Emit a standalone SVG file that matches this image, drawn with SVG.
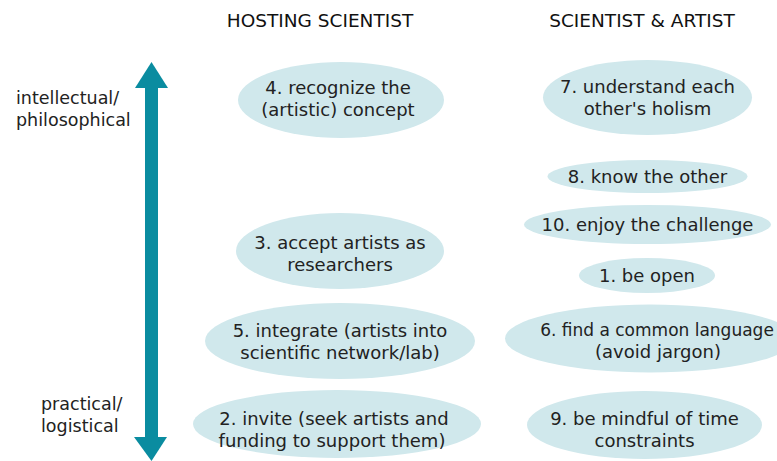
<svg xmlns="http://www.w3.org/2000/svg" width="777" height="461" viewBox="0 0 777 461">
<style>
.e{fill:#d0e8ec}
.t{font-family:"DejaVu Sans",Verdana,sans-serif;font-size:18px;fill:#222;text-anchor:middle}
.h{font-family:"DejaVu Sans",Verdana,sans-serif;font-size:18.5px;fill:#111;text-anchor:middle}
.l{font-family:"DejaVu Sans",Verdana,sans-serif;font-size:17.5px;fill:#222}
</style>
<rect width="777" height="461" fill="#fff"/>
<text class="h" x="320" y="27">HOSTING SCIENTIST</text>
<text class="h" x="642" y="27">SCIENTIST &amp; ARTIST</text>
<g id="axis">
<rect x="145" y="86" width="13" height="353" fill="#0a8ca0"/>
<polygon points="151.5,62 168,88 135,88" fill="#0a8ca0"/>
<polygon points="151.5,461 167,437 134,437" fill="#0a8ca0"/>
</g>
<g id="lab-top"><text class="l" x="16" y="104">intellectual/</text><text class="l" x="16" y="126">philosophical</text></g>
<g id="lab-bottom"><text class="l" x="41" y="410">practical/</text><text class="l" x="41" y="432">logistical</text></g>
<g id="connectors"></g>
<g id="n4"><ellipse class="e" cx="341" cy="100" rx="103" ry="38"/><text class="t" x="338" y="94">4. recognize the</text><text class="t" x="338" y="116">(artistic) concept</text></g>
<g id="n3"><ellipse class="e" cx="340" cy="251" rx="104" ry="38"/><text class="t" x="340" y="249">3. accept artists as</text><text class="t" x="340" y="271">researchers</text></g>
<g id="n5"><ellipse class="e" cx="340" cy="341" rx="135" ry="38"/><text class="t" x="340" y="337">5. integrate (artists into</text><text class="t" x="340" y="359">scientific network/lab)</text></g>
<g id="n2"><ellipse class="e" cx="337" cy="424" rx="144" ry="34"/><text class="t" x="334" y="425">2. invite (seek artists and</text><text class="t" x="332" y="447">funding to support them)</text></g>
<g id="n7"><ellipse class="e" cx="647.5" cy="97.5" rx="104.5" ry="37.5"/><text class="t" x="647.5" y="93">7. understand each</text><text class="t" x="647.5" y="115">other's holism</text></g>
<g id="n8"><ellipse class="e" cx="647.5" cy="176.5" rx="100" ry="16.5"/><text class="t" x="647.5" y="182.5">8. know the other</text></g>
<g id="n10"><ellipse class="e" cx="647.5" cy="224.5" rx="123.5" ry="19.5"/><text class="t" x="647.5" y="230.5">10. enjoy the challenge</text></g>
<g id="n1"><ellipse class="e" cx="647" cy="275.5" rx="68" ry="17.5"/><text class="t" x="647" y="281.5">1. be open</text></g>
<g id="n6"><ellipse class="e" cx="650" cy="338.5" rx="145" ry="34"/><text class="t" x="657" y="336" style="font-size:17px">6. find a common language</text><text class="t" x="658" y="358">(avoid jargon)</text></g>
<g id="n9"><ellipse class="e" cx="644.5" cy="425" rx="117.5" ry="34"/><text class="t" x="644.5" y="425">9. be mindful of time</text><text class="t" x="644.5" y="447">constraints</text></g>
</svg>
